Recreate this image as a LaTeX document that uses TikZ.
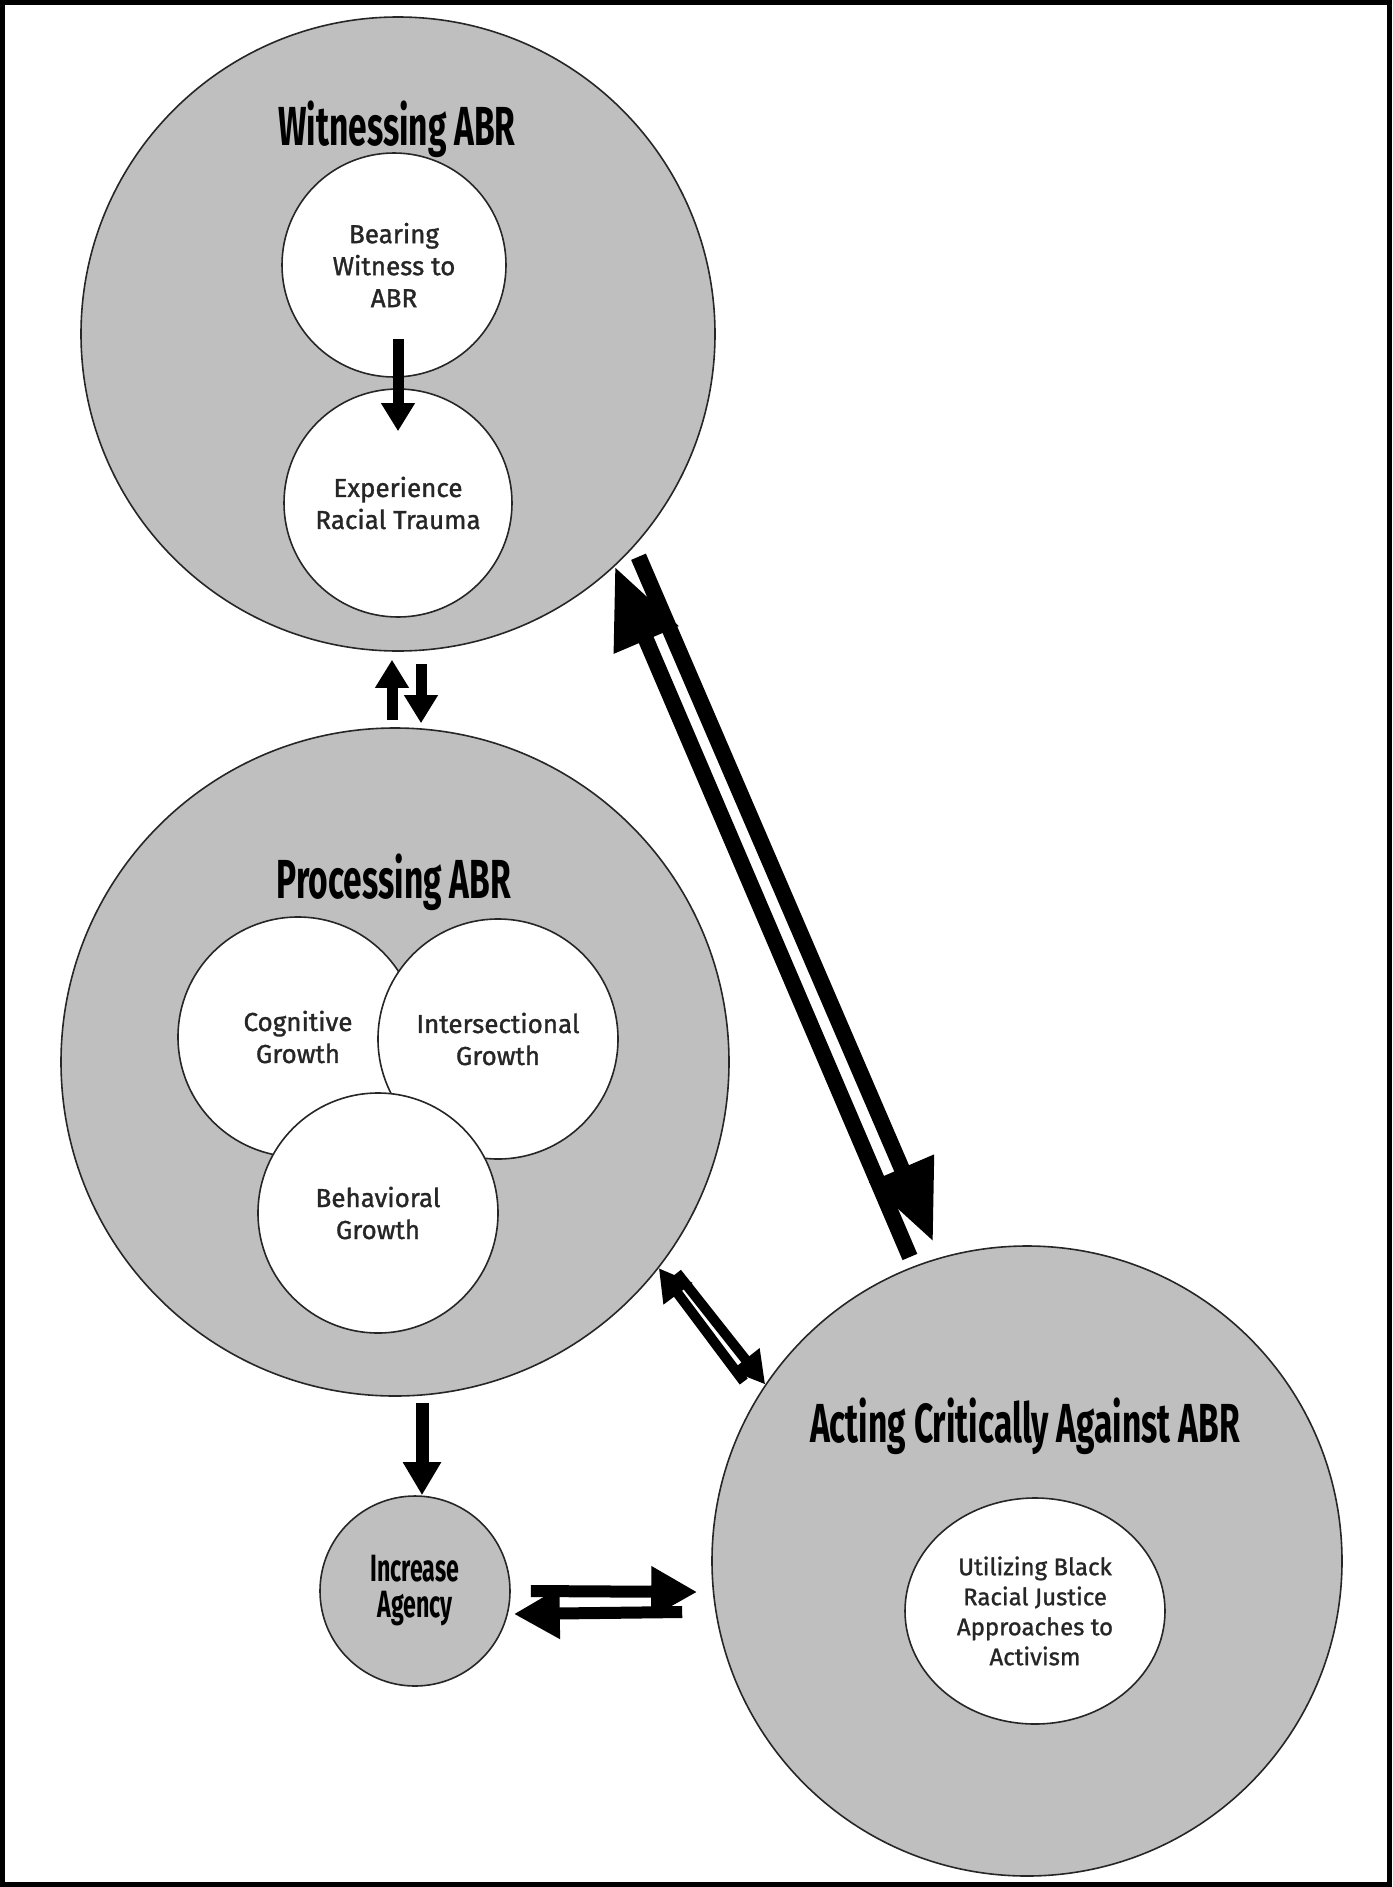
\documentclass[tikz,border=0pt]{standalone}
\usepackage{fontspec}
\setmainfont{Fira Sans}[FakeBold=1.2]
\newfontfamily\headfont[FakeStretch=0.61]{Fira Sans}
\usepackage{tikz}
\usetikzlibrary{arrows.meta, shapes.geometric}

\begin{document}
\begin{tikzpicture}[x=1pt, y=-1pt,
  ring/.style={draw=black!85, line width=1.6pt, fill=black!25, circle, inner sep=0pt},
  bubble/.style={draw=black!85, line width=1.6pt, fill=white, circle, inner sep=0pt, align=center, text=black!85, font=\fontsize{26}{32}\selectfont},
  heading/.style={anchor=base, font=\headfont\bfseries\fontsize{55}{60}\selectfont},
  bigarr/.style={line width=16pt, -{Triangle[length=80pt, width=66pt]}},
  midarr/.style={line width=11pt, -{Triangle[length=28pt, width=32pt]}},
  smallarr/.style={line width=10pt, -{Triangle[length=32pt, width=34pt]}},
  sidearr/.style={line width=12pt, -{Triangle[length=46pt, width=48pt]}}]
\useasboundingbox (0,0) rectangle (1392,1887);
\draw[line width=5pt] (2.5,2.5) rectangle (1389.5,1884.5);

\node[ring, minimum size=634pt] (wit) at (398,334) {};
\node[heading] (wittitle) at (397,145) {Witnessing ABR};
\node[bubble, minimum size=224pt] (bear) at (394,265) {Bearing\\Witness to\\ABR};
\node[bubble, minimum size=228pt] (exper) at (398,503) {Experience\\Racial Trauma};

\node[ring, minimum size=668pt] (proc) at (395,1062) {};
\node[heading] (proctitle) at (394,898) {Processing ABR};
\node[bubble, minimum size=240pt] (cog) at (298,1037) {Cognitive\\Growth};
\node[bubble, minimum size=240pt] (inter) at (498,1039) {Intersectional\\Growth};
\node[bubble, minimum size=240pt] (behav) at (378,1213) {Behavioral\\Growth};

\node[ring, minimum size=190pt, align=center, font=\headfont\bfseries\fontsize{38}{36}\selectfont] (agen) at (415,1591) {Increase\\Agency};

\node[ring, minimum size=630pt] (act) at (1027,1561) {};
\node[heading] (acttitle) at (1025,1442) {Acting Critically Against ABR};
\node[bubble, ellipse, minimum width=260pt, minimum height=226pt, font=\fontsize{24}{30}\selectfont] (util) at (1035,1611) {Utilizing Black\\Racial Justice\\Approaches to\\Activism};

\draw[midarr] ([xshift=4pt,yshift=39pt]bear.south) -- ([yshift=-43pt]exper.north);
\draw[midarr] ([xshift=-3pt,yshift=7pt]proc.north) -- ([xshift=-6pt,yshift=-8pt]wit.south);
\draw[midarr] ([xshift=23pt,yshift=-12pt]wit.south) -- ([xshift=26pt,yshift=4pt]proc.north);
\draw[midarr, line width=13pt, -{Triangle[length=33pt, width=36pt]}] ([xshift=27pt,yshift=-6pt]proc.south) -- ([xshift=7pt]agen.north);

\draw[bigarr, shorten <=10pt] (act.111) -- (wit.-47);
\draw[bigarr, shorten <=11pt, shorten >=17pt] (wit.-42) -- (act.106);

\draw[smallarr, shorten <=21pt] (act.149) -- (proc.-38);
\draw[smallarr, shorten <=18pt] (proc.-36) -- (act.146);

\draw[sidearr] ([xshift=20pt]agen.east) -- ([xshift=-14pt,yshift=-31pt]act.west);
\draw[sidearr] ([xshift=-29pt,yshift=-51pt]act.west) -- ([xshift=3pt,yshift=-23pt]agen.east);
\end{tikzpicture}
\end{document}
